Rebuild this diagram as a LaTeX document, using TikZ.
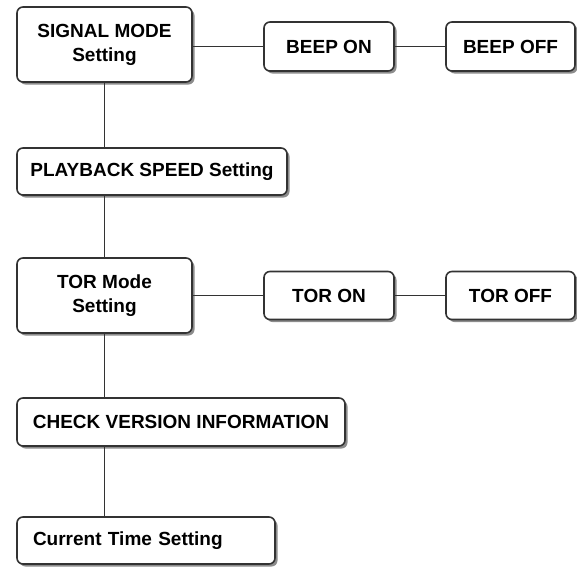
\documentclass[tikz,border=0pt]{standalone}
\usepackage{fontspec}
\setmainfont{Liberation Sans}
\usepackage{tikz}
\usetikzlibrary{shadows}
\definecolor{edgegray}{RGB}{51,51,51}

\tikzset{
  menubox/.style={draw=edgegray, line width=1.6pt, rounded corners=6pt, fill=white,
    drop shadow={shadow xshift=2.5pt, shadow yshift=-2.5pt, opacity=0.6, fill=black!75},
    font=\fontsize{19}{24}\selectfont\bfseries, align=center, inner sep=0pt},
  link/.style={draw=edgegray, line width=1.6pt}
}

\begin{document}
\begin{tikzpicture}[x=1pt,y=-1pt]
\useasboundingbox (0,0) rectangle (577,568);
% main column
\node [menubox, minimum width=175pt, minimum height=75pt] (sig) at (104.5,44.5) {SIGNAL MODE\\Setting};
\node [menubox, minimum width=270pt, minimum height=47pt] (play) at (152,171.5) {PLAYBACK SPEED Setting};
\node [menubox, minimum width=175pt, minimum height=75pt] (tor) at (104.5,295.5) {TOR Mode\\Setting};
\node [menubox, minimum width=328pt, minimum height=48pt] (check) at (181,422) {CHECK VERSION INFORMATION};
\node [menubox, minimum width=258pt, minimum height=47pt, align=left, text width=226pt] (time) at (146,540.5) {Current Time Setting};
% options
\node [menubox, minimum width=130pt, minimum height=49pt] (beepon) at (329,46.5) {BEEP ON};
\node [menubox, minimum width=129pt, minimum height=49pt] (beepoff) at (510.5,46.5) {BEEP OFF};
\node [menubox, minimum width=130pt, minimum height=48pt] (toron) at (329,295.5) {TOR ON};
\node [menubox, minimum width=129pt, minimum height=48pt] (toroff) at (510.5,295.5) {TOR OFF};

\draw [link] (sig.south) -- (sig.south |- play.north);
\draw [link] (sig.south |- play.south) -- (tor.north);
\draw [link] (tor.south) -- (tor.south |- check.north);
\draw [link] (tor.south |- check.south) -- (tor.south |- time.north);
\draw [link] (sig.east |- beepon.west) -- (beepon.west);
\draw [link] (beepon.east) -- (beepoff.west);
\draw [link] (tor.east |- toron.west) -- (toron.west);
\draw [link] (toron.east) -- (toroff.west);
\end{tikzpicture}
\end{document}
